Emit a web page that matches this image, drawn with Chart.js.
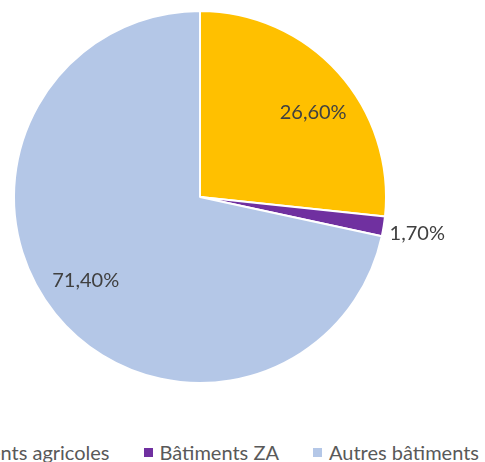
<!DOCTYPE html>
<html>
<head>
<meta charset="utf-8">
<script src="https://cdn.jsdelivr.net/npm/chart.js@4/dist/chart.umd.min.js"></script>
<style>
  html, body { margin: 0; padding: 0; background: #fff; overflow: hidden; }
  body { width: 485px; height: 462px; position: relative; }
  #wrap { position: absolute; left: 0; top: 0; width: 485px; height: 400px; }
  #legend {
    position: absolute; right: 6px; top: 440px; white-space: nowrap;
    font-family: Lato, sans-serif; font-size: 20px; color: #595959;
    display: flex; align-items: center;
  }
  .item { display: flex; align-items: center; margin-left: 34px; }
  .item:first-child { margin-left: 0; }
  .sw { width: 9px; height: 9px; margin-right: 7px; }
</style>
</head>
<body>
<div id="wrap"><canvas id="pie"></canvas></div>
<div id="legend"></div>
<script>
// Part des bâtiments (en %)
const categories = ['Bâtiments agricoles', 'Bâtiments ZA', 'Autres bâtiments'];
const shares = [26.6, 1.7, 71.4];
const shareLabels = ['26,60%', '1,70%', '71,40%'];
const colors = ['#FFC000', '#7030A0', '#B4C7E7'];
const labelOutside = [false, true, false];

// draw the percentage labels on/next to each slice
const sliceLabels = {
  id: 'sliceLabels',
  afterDatasetsDraw(chart) {
    const ctx = chart.ctx;
    const arcs = chart.getDatasetMeta(0).data;
    ctx.save();
    ctx.font = '20px Lato, sans-serif';
    ctx.fillStyle = '#404040';
    ctx.textBaseline = 'middle';
    arcs.forEach((arc, i) => {
      const p = arc.getProps(['x', 'y', 'startAngle', 'endAngle', 'outerRadius']);
      const mid = (p.startAngle + p.endAngle) / 2;
      if (labelOutside[i]) {
        const r = p.outerRadius + 6;
        ctx.textAlign = 'left';
        ctx.fillText(shareLabels[i], p.x + r * Math.cos(mid), p.y + r * Math.sin(mid) + 6);
      } else {
        // excel-like placement, pushed a bit toward the horizontal
        const r = p.outerRadius * 0.76;
        const a = mid + (Math.cos(mid) > 0 ? 0.09 : 0.05);
        ctx.textAlign = 'center';
        ctx.fillText(shareLabels[i], p.x + r * Math.cos(a), p.y + r * Math.sin(a));
      }
    });
    ctx.restore();
  }
};

new Chart(document.getElementById('pie'), {
  type: 'pie',
  data: {
    labels: categories,
    datasets: [{
      data: shares,
      backgroundColor: colors,
      borderColor: '#ffffff',
      borderWidth: 2
    }]
  },
  options: {
    responsive: true,
    maintainAspectRatio: false,
    animation: false,
    layout: { padding: { top: 10, bottom: 16, left: 0, right: 85 } },
    plugins: {
      legend: { display: false },
      tooltip: { enabled: false }
    }
  },
  plugins: [sliceLabels]
});

// html legend under the chart
const legend = document.getElementById('legend');
categories.forEach((name, i) => {
  const item = document.createElement('div');
  item.className = 'item';
  item.innerHTML = '<span class="sw" style="background:' + colors[i] + '"></span><span>' + name + '</span>';
  legend.appendChild(item);
});
</script>
</body>
</html>
